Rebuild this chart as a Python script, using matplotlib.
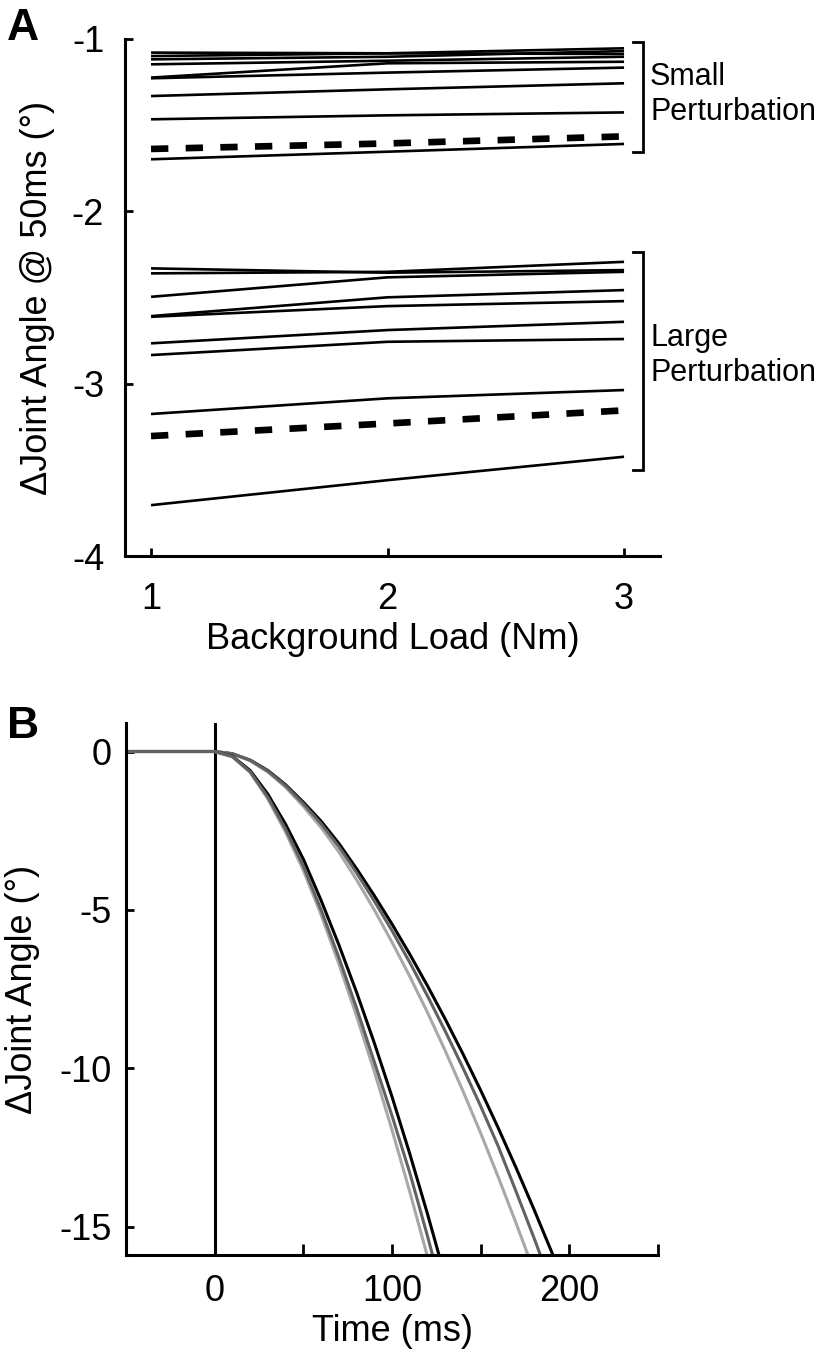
import matplotlib
matplotlib.use("Agg")
import matplotlib.pyplot as plt
import numpy as np

plt.rcParams['font.family'] = ['Liberation Sans', 'DejaVu Sans']

# ---------------- Panel A data ----------------
loads = [1, 2, 3]
small_trials = [
    [-1.079, -1.083, -1.087],
    [-1.099, -1.083, -1.054],
    [-1.118, -1.103, -1.070],
    [-1.147, -1.126, -1.103],
    [-1.224, -1.141, -1.132],
    [-1.228, -1.195, -1.166],
    [-1.331, -1.292, -1.257],
    [-1.466, -1.443, -1.426],
    [-1.698, -1.654, -1.609],
]
small_mean = [-1.638, -1.606, -1.565]
large_trials = [
    [-2.331, -2.356, -2.341],
    [-2.360, -2.351, -2.293],
    [-2.496, -2.383, -2.351],
    [-2.608, -2.499, -2.457],
    [-2.612, -2.550, -2.521],
    [-2.766, -2.689, -2.641],
    [-2.834, -2.757, -2.741],
    [-3.176, -3.085, -3.037],
    [-3.705, -3.560, -3.424],
]
large_mean = [-3.304, -3.231, -3.155]
a_yticks = [-4, -3, -2, -1]

# ---------------- Panel B data ----------------
time_ms = [-50, 0, 10, 20, 30, 40, 50, 60, 70, 80, 90, 100, 110, 120, 130, 140, 150, 160, 170, 180, 190, 200]
large_black = [0, 0, -0.15, -0.60, -1.35, -2.30, -3.40, -4.70, -6.10, -7.60, -9.20, -10.90, -12.70, -14.60, -16.6, -18.7, -20.9, -23.2, -25.6, -28.1, -30.7, -33.4]
large_dgray = [0, 0, -0.16, -0.64, -1.44, -2.45, -3.62, -5.00, -6.50, -8.10, -9.80, -11.50, -13.30, -15.30, -17.4, -19.6, -21.9, -24.3, -26.8, -29.4, -32.1, -34.9]
large_lgray = [0, 0, -0.17, -0.66, -1.50, -2.55, -3.75, -5.15, -6.70, -8.35, -10.10, -11.95, -13.90, -15.95, -18.1, -20.4, -22.8, -25.3, -27.9, -30.6, -33.4, -36.3]
small_black = [0, 0, -0.07, -0.27, -0.60, -1.05, -1.60, -2.20, -2.90, -3.70, -4.55, -5.45, -6.40, -7.40, -8.45, -9.55, -10.70, -11.90, -13.15, -14.45, -15.80, -17.2]
small_dgray = [0, 0, -0.07, -0.28, -0.62, -1.08, -1.65, -2.28, -3.00, -3.83, -4.72, -5.66, -6.66, -7.72, -8.83, -9.99, -11.20, -12.48, -13.90, -15.35, -16.85, -18.4]
small_lgray = [0, 0, -0.07, -0.29, -0.65, -1.13, -1.73, -2.40, -3.17, -4.05, -5.00, -6.02, -7.10, -8.24, -9.45, -10.72, -12.05, -13.45, -14.90, -16.40, -17.95, -19.5]
b_xticks = [-50, 0, 50, 100, 150, 200, 250]
b_xticklabels = ['', '0', '', '100', '', '200', '']
b_yticks = [-15, -10, -5, 0]

BLACK = '#000000'
DGRAY = '#626262'
LGRAY = '#a8a8a8'

fig = plt.figure(figsize=(8.16, 13.6), dpi=100)

FS = 26
spine_lw = 2.2

def style(ax):
    for s in ['top', 'right']:
        ax.spines[s].set_visible(False)
    for s in ['left', 'bottom']:
        ax.spines[s].set_linewidth(spine_lw)
    ax.tick_params(direction='in', length=6, width=2.0, labelsize=FS, pad=10)

# ---------------- Panel A ----------------
axA = fig.add_axes([125/816, 1-556/1360, (660-125)/816, (556-39)/1360])
style(axA)
axA.tick_params(axis='x', pad=19)
axA.tick_params(axis='y', pad=15)
for row in small_trials + large_trials:
    axA.plot(loads, row, color='black', lw=1.9, solid_capstyle='butt')
for m in (small_mean, large_mean):
    axA.plot(loads, m, color='black', lw=4.8, dashes=(2.6, 2.6), dash_capstyle='butt')
axA.set_xlim(0.89, 3.152)
axA.set_ylim(-4, -1)
axA.set_xticks(loads)
axA.set_yticks(a_yticks)
axA.set_yticklabels([str(v) for v in a_yticks])
axA.set_xlabel('Background Load (Nm)', fontsize=FS, labelpad=3)
axA.set_ylabel('\u0394Joint Angle @ 50ms (\u00b0)', fontsize=FS, labelpad=12)

# brackets
def bracket(ax, x0, x1, y0, y1):
    ax.plot([x0, x1, x1, x0], [y0, y0, y1, y1], color='black', lw=2.0,
            clip_on=False, solid_joinstyle='miter')

bracket(axA, 3.038, 3.080, -1.017, -1.656)
bracket(axA, 3.038, 3.080, -2.236, -3.501)
axA.text(3.11, -1.322, 'Small\nPerturbation', fontsize=22, ha='left', va='center',
         linespacing=1.2, clip_on=False)
axA.text(3.11, -2.837, 'Large\nPerturbation', fontsize=22, ha='left', va='center',
         linespacing=1.2, clip_on=False)

# ---------------- Panel B ----------------
axB = fig.add_axes([126/816, 1-1255/1360, (658-126)/816, (1255-723)/1360])
style(axB)
axB.tick_params(axis='x', length=8, pad=14)
axB.axvline(0, color='black', lw=2.2)
for vals, c in [(small_black, BLACK), (small_lgray, LGRAY), (small_dgray, DGRAY),
                (large_black, BLACK), (large_lgray, LGRAY), (large_dgray, DGRAY)]:
    axB.plot(time_ms, vals, color=c, lw=2.2)
axB.set_xlim(-50, 250)
axB.set_ylim(-15.9, 0.9)
axB.set_xticks(b_xticks)
axB.set_xticklabels(b_xticklabels)
axB.set_yticks(b_yticks)
axB.set_yticklabels([str(v) for v in b_yticks])
axB.set_xlabel('Time (ms)', fontsize=FS, labelpad=3)
axB.set_ylabel('\u0394Joint Angle (\u00b0)', fontsize=FS, labelpad=14)

fig.text(7/816, 1-29/1360, 'A', fontsize=32, fontweight='bold', ha='left', va='center')
fig.text(7/816, 1-727/1360, 'B', fontsize=32, fontweight='bold', ha='left', va='center')

fig.savefig('out.png', dpi=100)
